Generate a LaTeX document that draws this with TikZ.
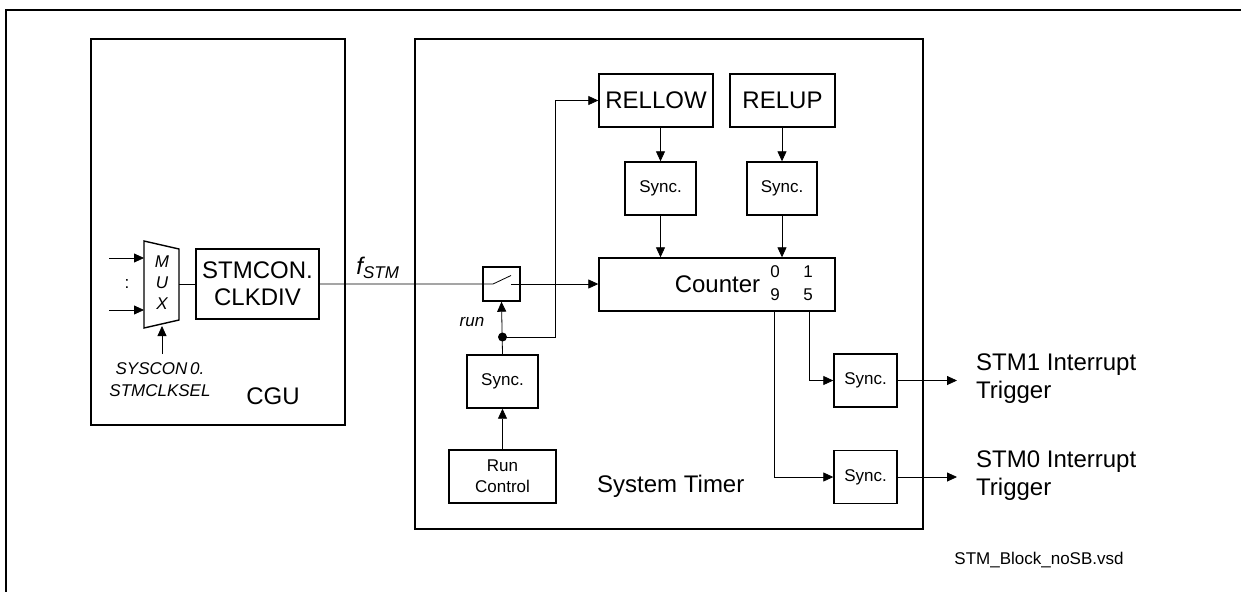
\documentclass[tikz,border=0pt]{standalone}
\usepackage{fontspec}
\setmainfont{Liberation Sans}
\usetikzlibrary{arrows.meta,calc}
\begin{document}
\begin{tikzpicture}[x=1pt,y=-1pt,
  box/.style={draw,line width=1.4pt,inner sep=0pt,font=\fontsize{24}{26}\selectfont},
  sbox/.style={draw,line width=1.4pt,inner sep=0pt,minimum width=71pt,minimum height=53pt,font=\fontsize{17}{20}\selectfont},
  conn/.style={line width=0.8pt},
  arr/.style={line width=0.8pt,-{Triangle[length=10pt,width=9pt]}},
  big/.style={inner sep=0pt,font=\fontsize{24}{28}\selectfont},
  small/.style={inner sep=0pt,font=\fontsize{17}{22}\selectfont}]
\useasboundingbox (0,0) rectangle (1241,592);
% frame
\coordinate (ftl) at (6,10);
\coordinate (ftr) at (1241,10);
\coordinate (fbl) at (6,592);
\draw[line width=1.3pt] (ftr) -- (ftl) -- (fbl);
% CGU
\node[box,minimum width=254pt,minimum height=386pt] (cgu) at (218,232) {};
\node[big] (cgulbl) at (273,396) {CGU};
\node[box,minimum width=123pt,minimum height=70pt,align=center,font=\fontsize{24}{27}\selectfont] (clkdiv) at (257.5,284) {STMCON.\\CLKDIV};
% MUX
\coordinate (m1) at (144,241);
\coordinate (m2) at (179,249);
\coordinate (m3) at (179,320);
\coordinate (m4) at (144,328);
\draw[line width=1.4pt] (m1) -- (m2) -- (m3) -- (m4) -- cycle;
\node[small,align=center,font=\fontsize{17}{21}\selectfont\itshape] (mux) at (162,283) {M\\U\\X};
\coordinate (in1) at (109,258);
\coordinate (in1e) at (144,258);
\coordinate (in2) at (109,310);
\coordinate (in2e) at (144,310);
\draw[arr] (in1) -- (in1e);
\draw[arr] (in2) -- (in2e);
\node[small] (dots) at (127,284) {:};
\coordinate (selb) at (162,354);
\coordinate (selt) at (162,326);
\draw[arr] (selb) -- (selt);
\node[small,align=center,font=\fontsize{17}{22}\selectfont\itshape] (sel) at (160,380) {SYSCON\,0.\\STMCLKSEL};
\draw[conn] (m2 |- clkdiv.west) -- (clkdiv.west);
% System timer
\node[box,minimum width=508pt,minimum height=490pt] (st) at (669,284) {};
\node[big,anchor=west] (stlbl) at (597,486) {System Timer};
\node[inner sep=0pt] (fstm) at (378,268) {\fontsize{24}{28}\selectfont\itshape f\textsubscript{\fontsize{17}{20}\selectfont STM}};
% switch
\node[draw,line width=1.4pt,minimum width=37pt,minimum height=34pt,inner sep=0pt] (sw) at (501.5,284) {};
\coordinate (swa) at ($(sw.center)+(-8.5,0)$);
\coordinate (swb) at ($(sw.center)+(9.5,-8.5)$);
\coordinate (swc) at ($(sw.center)+(9.5,0)$);
% counter
\node[box,minimum width=236pt,minimum height=53pt] (cnt) at (717,284.5) {};
\node[big] (cntlbl) at (717.5,284) {Counter};
\node[small] (b0) at (775,272) {0};
\node[small] (b1) at (808,272) {1};
\node[small] (b9) at (775,295) {9};
\node[small] (b5) at (808,295) {5};
\draw[conn] (clkdiv.east) -- (swa) -- (swb);
\draw[arr] (swc) -- (cnt.west |- swc);
% RELLOW / RELUP
\node[box,minimum width=114pt,minimum height=53pt] (rellow) at (656,100.5) {RELLOW};
\node[box,minimum width=105pt,minimum height=53pt] (relup) at (782.5,100.5) {RELUP};
\node[sbox] (s1) at (660.5,188.5) {Sync.};
\node[sbox,minimum width=70pt] (s2) at (782,188.5) {Sync.};
\draw[arr] (s1.north |- rellow.south) -- (s1.north);
\draw[arr] (s2.north |- relup.south) -- (s2.north);
\draw[arr] (s1.south) -- (s1.south |- cnt.north);
\draw[arr] (s2.south) -- (s2.south |- cnt.north);
% run
\node[sbox] (rs) at (502.5,381.5) {Sync.};
\node[sbox,minimum width=107pt,align=center,font=\fontsize{17}{21}\selectfont] (rc) at (502.5,476.5) {Run\\Control};
\draw[arr] (rc.north) -- (rs.south);
\coordinate (dot) at (502.5,337);
\fill (dot) circle (4.5);
\draw[arr] (rs.north) -- (sw.south);
\node[small,font=\fontsize{17}{20}\selectfont\itshape] (runlbl) at (472,322) {run};
\coordinate (rv) at (555,337);
\draw[arr] (dot) -- (rv) -- (rv |- rellow.west) -- (rellow.west);
% interrupt outputs
\node[sbox,minimum width=63pt] (i1) at (865.5,380.5) {Sync.};
\node[sbox,minimum width=63pt] (i0) at (865.5,477) {Sync.};
\coordinate (c1) at (809,311);
\coordinate (c0) at (774,311);
\draw[arr] (c1) -- (c1 |- i1.west) -- (i1.west);
\draw[arr] (c0) -- (c0 |- i0.west) -- (i0.west);
\coordinate (o1) at (957,380.5);
\coordinate (o0) at (957,477);
\draw[arr] (i1.east) -- (o1);
\draw[arr] (i0.east) -- (o0);
\node[big,anchor=west,align=left] (t1) at (976,379) {STM1 Interrupt\\Trigger};
\node[big,anchor=west,align=left] (t0) at (976,476) {STM0 Interrupt\\Trigger};
\node[small] (fname) at (1039,560) {STM\_Block\_noSB.vsd};
\end{tikzpicture}
\end{document}
